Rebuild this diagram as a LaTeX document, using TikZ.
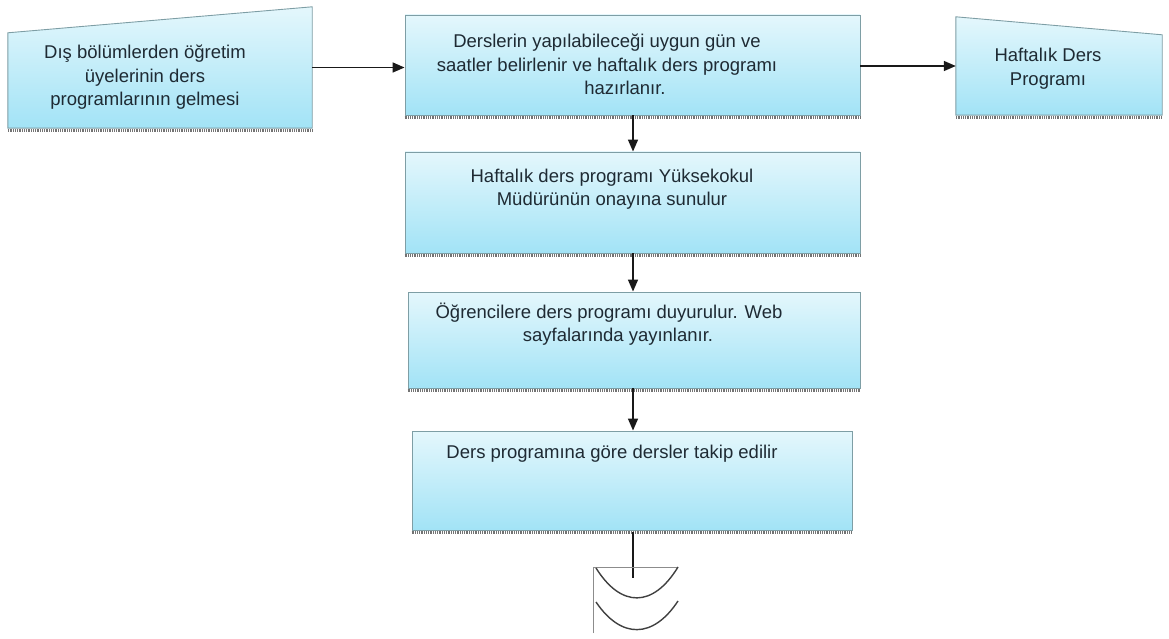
\documentclass[tikz,border=0pt]{standalone}
\usepackage{fontspec}
\setmainfont{Liberation Sans}
\usetikzlibrary{arrows.meta}
\definecolor{boxtop}{HTML}{E4F7FC}
\definecolor{boxbot}{HTML}{A2E3F6}
\definecolor{boxline}{HTML}{7E9EA5}
\definecolor{ink}{HTML}{1E2A33}
\begin{document}
\begin{tikzpicture}[x=1pt,y=-1pt,
  flowbox/.style={rectangle, draw=boxline, line width=0.9pt,
    top color=boxtop, bottom color=boxbot, inner sep=0pt},
  frame/.style={rectangle, inner sep=0pt},
  slanted/.style={draw=boxline, line width=0.9pt, top color=boxtop, bottom color=boxbot},
  boxshadow/.style={draw=black!55, line width=3pt, dash pattern=on 1pt off 0.8pt},
  txt/.style={font=\fontsize{18.5}{23.5}\selectfont, text=ink, align=center, inner sep=0pt},
  arr/.style={draw=black!90, line width=1.5pt, -{Triangle[length=12pt,width=10pt]}},
  plain/.style={draw=black!90, line width=1.5pt},
  symline/.style={draw=black!75, line width=1.4pt},
  symthin/.style={draw=black!45, line width=0.8pt}]
\useasboundingbox (0,0) rectangle (1169,639);

% frames of the two slanted-top (manual input) shapes
\node[frame, minimum width=304pt, minimum height=121pt] (src) at (160,67.5) {};
\node[frame, minimum width=206pt, minimum height=98pt] (dst) at (1059,66) {};

% shadows under every shape
\draw[boxshadow] ([yshift=-2.5pt]src.south west) -- ([yshift=-2.5pt]src.south east);
\draw[boxshadow] ([yshift=-2.5pt]dst.south west) -- ([yshift=-2.5pt]dst.south east);

\shade[slanted] (src.south west) -- (src.south east) -- (src.north east)
  -- ([yshift=-26pt]src.north west) -- cycle;
\shade[slanted] (dst.south west) -- (dst.north west)
  -- ([yshift=-18pt]dst.north east) -- (dst.south east) -- cycle;

% process boxes
\node[flowbox, minimum width=455pt, minimum height=100pt] (mid) at (632.5,65) {};
\node[flowbox, minimum width=455pt, minimum height=101pt] (b2) at (632.5,202.5) {};
\node[flowbox, minimum width=452pt, minimum height=96pt] (b3) at (634,340) {};
\node[flowbox, minimum width=440pt, minimum height=99pt] (b4) at (632,480.5) {};

\foreach \b in {mid,b2,b3,b4}
  \draw[boxshadow] ([yshift=-2.5pt]\b.south west) -- ([yshift=-2.5pt]\b.south east);

% texts (anchored at the baseline of their last line)
\node[txt, anchor=base] (t0) at (145,106) {Dış bölümlerden öğretim\\üyelerinin ders\\programlarının gelmesi};
\node[txt, anchor=base] (t1) at (607,95) {Derslerin yapılabileceği uygun gün ve\\saatler belirlenir ve haftalık ders programı\\\hspace*{36pt}hazırlanır.};
\node[txt, anchor=base] (t5) at (1048,85.5) {Haftalık Ders\\Programı};
\node[txt, anchor=base] (t2) at (612,205.5) {Haftalık ders programı Yüksekokul\\Müdürünün onayına sunulur};
\node[txt, anchor=base] (t3) at (609,341.5) {Öğrencilere ders programı duyurulur. Web\\\hspace*{18pt}sayfalarında yayınlanır.};
\node[txt, anchor=base] (t4) at (612,458) {Ders programına göre dersler takip edilir};

% connectors
\coordinate (col) at (633,0);
\coordinate (tail) at (633,578);
\draw[arr] (src.east) -- (src.east -| mid.west);
\draw[arr] (dst.west -| mid.east) -- (dst.west);
\draw[arr] (mid.south -| col) -- (b2.north -| col);
\draw[arr] (b2.south -| col) -- (b3.north -| col);
\draw[arr] (b3.south -| col) -- (b4.north -| col);
\draw[plain] ([yshift=-1.5pt]b4.south -| col) -- (tail);

% terminal symbol below the last box
\draw[symthin] (593,633) -- (593,567) -- (678,567);
\draw[symline] (596,568) .. controls (621,608) and (653,608) .. (678,567);
\draw[symline] (596,602) .. controls (621,639) and (653,639) .. (678,601);
\end{tikzpicture}
\end{document}
